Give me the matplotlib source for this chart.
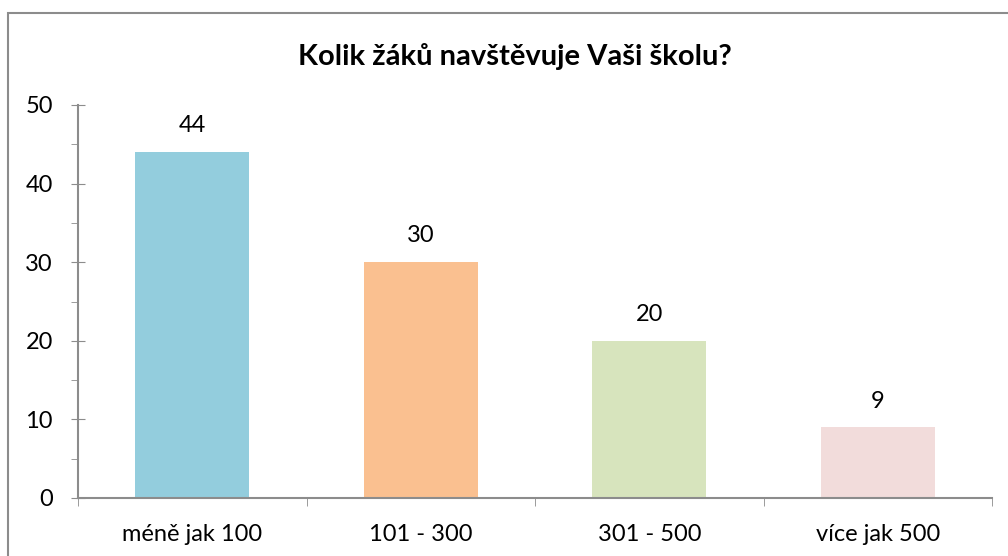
import matplotlib
matplotlib.use("Agg")
import matplotlib.pyplot as plt
from matplotlib.patches import Rectangle
from matplotlib.ticker import MultipleLocator

categories = ["méně jak 100", "101 - 300", "301 - 500", "více jak 500"]
values = [44, 30, 20, 9]
colors = ["#93CDDD", "#FAC090", "#D7E4BD", "#F2DCDB"]
title = "Kolik žáků navštěvuje Vaši školu?"

plt.rcParams['font.family'] = ['Lato', 'DejaVu Sans']

W, H = 1008, 556
fig = plt.figure(figsize=(W / 100, H / 100), dpi=100)
fig.patches.append(Rectangle((8 / W, 0 - 0.01), 1.1, 1 - 13 / H + 0.01, transform=fig.transFigure,
                             fill=False, edgecolor="#8c8c8c", linewidth=1.5, clip_on=False))

ax = fig.add_axes([78 / W, 1 - 498 / H, (992 - 78) / W, (498 - 105) / H])
x = list(range(len(categories)))
ax.bar(x, values, width=0.5, color=colors)
for xi, v in zip(x, values):
    ax.text(xi, v + 2.0, str(v), ha="center", va="bottom", fontsize=17, color="black")

ax.set_xlim(-0.5, len(categories) - 0.5)
ax.set_ylim(0, 50)
ax.yaxis.set_major_locator(MultipleLocator(10))
ax.yaxis.set_minor_locator(MultipleLocator(5))
ax.set_xticks(x)
ax.set_xticklabels(categories, fontsize=17)
ax.set_xticks([i - 0.5 for i in range(len(categories) + 1)], minor=True)
ax.tick_params(axis="x", which="major", length=0, pad=19)
ax.tick_params(axis="x", which="minor", length=6, direction="out", color="#8c8c8c")
ax.tick_params(axis="y", which="major", length=10, direction="inout", color="#8c8c8c", labelsize=17, pad=13)
ax.tick_params(axis="y", which="minor", length=5, direction="out", color="#8c8c8c")
for s in ["top", "right"]:
    ax.spines[s].set_visible(False)
for s in ["left", "bottom"]:
    ax.spines[s].set_color("#8c8c8c")
    ax.spines[s].set_linewidth(1.5)

fig.text(515 / W, 1 - 57 / H, title, ha="center", va="center", fontsize=21, fontweight="bold")

fig.savefig("out.png", dpi=100)
